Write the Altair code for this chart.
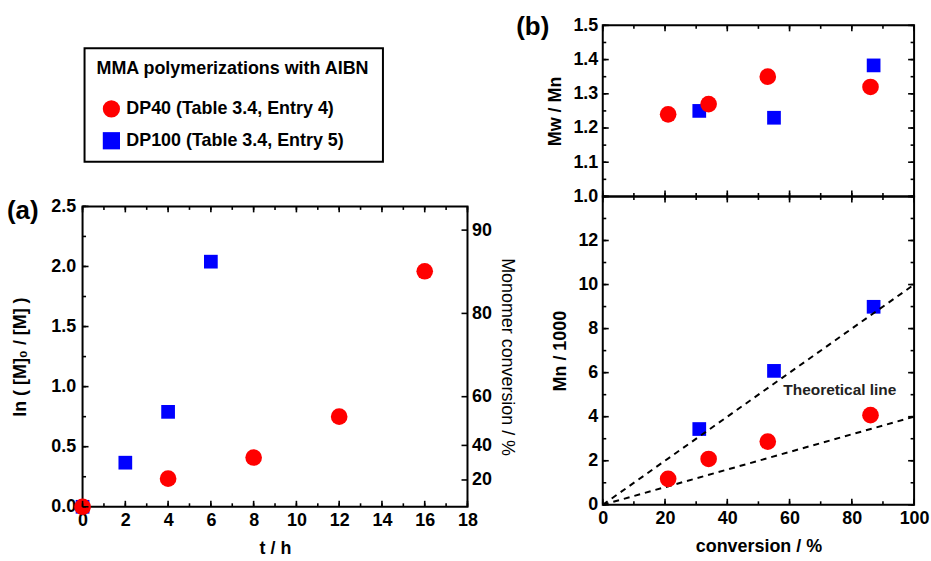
import altair as alt
import numpy as np
import pandas as pd

FONT = "Liberation Sans"

# ---------------- data ----------------
series_names = ["DP40 (Table 3.4, Entry 4)", "DP100 (Table 3.4, Entry 5)"]
series_colors = ["#ff0000", "#0000ff"]
series_shapes = ["circle", "square"]
legend_title = "MMA polymerizations with AIBN"

# panel (a): ln([M]0/[M]) vs time
t_dp40 = [0, 4, 8, 12, 16]
ln_dp40 = [0.0, 0.234, 0.41, 0.75, 1.96]
t_dp100 = [0, 2, 4, 6]
ln_dp100 = [0.0, 0.367, 0.79, 2.04]
conversion_ticks = [20, 40, 60, 80, 90]

# panel (b): Mw/Mn and Mn vs conversion
conv_dp40 = [21, 34, 53, 86]
pdi_dp40 = [1.24, 1.27, 1.35, 1.32]
mn_dp40 = [1.18, 2.08, 2.87, 4.07]
conv_dp100 = [31, 55, 87]
pdi_dp100 = [1.25, 1.23, 1.383]
mn_dp100 = [3.44, 6.08, 8.99]

theory_conv = [0, 100]
theory_mn_dp40 = [0, 4]
theory_mn_dp100 = [0, 10]
theory_label = "Theoretical line"
theory_label_at = [58, 5.2]

# axis domains and tick values
a_x_dom, a_y_dom = [0, 18], [0, 2.5]
b_x_dom, b1_y_dom, b2_y_dom = [0, 100], [1.0, 1.5], [0, 14]
a_x_major = list(range(0, 19, 2))
a_x_minor = list(range(0, 19))
a_y_major = [0.0, 0.5, 1.0, 1.5, 2.0, 2.5]
a_y_minor = [round(0.25 * i, 2) for i in range(11)]
b_x_major = list(range(0, 101, 20))
b_x_minor = list(range(0, 101, 10))
b1_y_major = [1.0, 1.1, 1.2, 1.3, 1.4, 1.5]
b1_y_minor = [round(1 + 0.05 * i, 2) for i in range(11)]
b2_y_major = list(range(0, 15, 2))
b2_y_minor = list(range(0, 15))
b2_y_labels = list(range(0, 13, 2))

# ---------------- layout ----------------
WA, HA = 387, 302
WB, HB1, HB2 = 313, 172, 310
SPACER_H = 182
COL_SPACING = 523
MAJOR, MINOR, TICK_W = 6, 3.5, 1.6


def label_axis(orient, values, fmt, title, label_pad, title_pad, **kw):
    return alt.Axis(orient=orient, values=values, format=fmt, title=title,
                    labelPadding=label_pad, titlePadding=title_pad,
                    ticks=False, tickSize=0, domain=False, grid=False,
                    labelFlush=False, labelOverlap=False, **kw)


def tick_layer(xs, ys, vals, edge, vertical, inward_sign, size):
    """Inward-pointing frame ticks, positioned through the panel's own scales."""
    if vertical:
        df = pd.DataFrame({"x": vals, "y": [edge] * len(vals)})
        mk = alt.Chart(df).mark_tick(orient="vertical", size=size, thickness=TICK_W,
                                     color="black", opacity=1, yOffset=inward_sign * size / 2)
    else:
        df = pd.DataFrame({"x": [edge] * len(vals), "y": vals})
        mk = alt.Chart(df).mark_tick(orient="horizontal", size=size, thickness=TICK_W,
                                     color="black", opacity=1, xOffset=inward_sign * size / 2)
    return mk.encode(x=alt.X("x:Q", scale=xs, axis=None), y=alt.Y("y:Q", scale=ys, axis=None))


def frame_ticks(xs, ys, xdom, ydom, xmaj, xmin, ymaj, ymin, right=True):
    out = []
    for xv, yv, size in [(xmaj, ymaj, MAJOR), (xmin, ymin, MINOR)]:
        out.append(tick_layer(xs, ys, xv, ydom[0], True, -1, size))   # bottom edge
        out.append(tick_layer(xs, ys, xv, ydom[1], True, 1, size))    # top edge
        out.append(tick_layer(xs, ys, yv, xdom[0], False, 1, size))   # left edge
        if right:
            out.append(tick_layer(xs, ys, yv, xdom[1], False, -1, size))  # right edge
    return out


def points(df, xf, yf, xs, ys, color, shape, size, xaxis=None, yaxis=None):
    return alt.Chart(df).mark_point(filled=True, opacity=1, color=color, shape=shape,
                                    size=size, strokeWidth=0).encode(
        x=alt.X(xf, type="quantitative", scale=xs, axis=xaxis),
        y=alt.Y(yf, type="quantitative", scale=ys, axis=yaxis),
    )


# ---------------- legend (in spacer above panel a) ----------------
leg = alt.Legend(title=legend_title, orient="none", legendX=2, legendY=23,
                 strokeColor="black", fillColor="white", padding=12, cornerRadius=0,
                 titleFont=FONT, titleFontSize=18, titleFontWeight="bold", titleColor="black",
                 titlePadding=22, titleLimit=500,
                 labelFont=FONT, labelFontSize=18, labelFontWeight="bold", labelColor="black",
                 labelLimit=500, symbolSize=300, symbolOffset=6, labelOffset=6,
                 rowPadding=14, symbolOpacity=1, symbolStrokeWidth=0)

df_leg = pd.DataFrame({"series": series_names, "v": [0, 0]})
spacer = alt.Chart(df_leg).mark_point(filled=True, opacity=0).encode(
    x=alt.X("v:Q", axis=None),
    y=alt.Y("v:Q", axis=None),
    color=alt.Color("series:N", scale=alt.Scale(domain=series_names, range=series_colors), legend=leg),
    shape=alt.Shape("series:N", scale=alt.Scale(domain=series_names, range=series_shapes), legend=leg),
).properties(width=WA, height=SPACER_H, view=alt.ViewBackground(stroke=None))

# ---------------- panel (a) ----------------
df_a40 = pd.DataFrame({"t": t_dp40, "ln": ln_dp40})
df_a100 = pd.DataFrame({"t": t_dp100, "ln": ln_dp100})
xa = alt.Scale(domain=a_x_dom, nice=False, zero=False)
ya = alt.Scale(domain=a_y_dom, nice=False, zero=False)
conv_positions = [float(-np.log(1 - c / 100)) for c in conversion_ticks]

a_blue = points(df_a100, "t", "ln", xa, ya, series_colors[1], "square", 190,
                xaxis=label_axis("bottom", a_x_major, "d", "t / h", 5, 10),
                yaxis=label_axis("left", a_y_major, ".1f", "ln ( [M]₀ / [M] )", 7, 21))
a_red = points(df_a40, "t", "ln", xa, ya, series_colors[0], "circle", 280)
a_conv = alt.Chart(df_a40).mark_point(opacity=0).encode(
    x=alt.X("t:Q", scale=xa, axis=None),
    y=alt.Y("ln:Q", scale=ya, axis=alt.Axis(
        orient="right", values=conv_positions,
        labelExpr="format(100 * (1 - exp(-datum.value)), '.0f')",
        ticks=False, tickSize=0, domain=False, grid=False, labelPadding=4,
        labelFlush=False, labelOverlap=False,
        title="Monomer conversion / %", titleFontWeight="normal", titlePadding=6)),
)
a_conv_ticks = tick_layer(xa, ya, conv_positions, a_x_dom[1], False, -1, MAJOR)

panel_a = alt.layer(
    a_blue, a_red, a_conv, a_conv_ticks,
    *frame_ticks(xa, ya, a_x_dom, a_y_dom, a_x_major, a_x_minor, a_y_major, a_y_minor, right=False)
).resolve_axis(x="independent", y="independent").properties(
    width=WA, height=HA,
    title=alt.TitleParams("(a)", anchor="start", frame="group", offset=0, baseline="bottom", dx=-76, dy=53),
)

# ---------------- panel (b) ----------------
df_b40 = pd.DataFrame({"conv": conv_dp40, "pdi": pdi_dp40, "mn": mn_dp40})
df_b100 = pd.DataFrame({"conv": conv_dp100, "pdi": pdi_dp100, "mn": mn_dp100})
xb = alt.Scale(domain=b_x_dom, nice=False, zero=False)
yb1 = alt.Scale(domain=b1_y_dom, nice=False, zero=False)
yb2 = alt.Scale(domain=b2_y_dom, nice=False, zero=False)

b1_blue = points(df_b100, "conv", "pdi", xb, yb1, series_colors[1], "square", 190,
                 xaxis=None, yaxis=label_axis("left", b1_y_major, ".1f", "Mw / Mn", 5, 8))
b1_red = points(df_b40, "conv", "pdi", xb, yb1, series_colors[0], "circle", 280)
b_top = alt.layer(
    b1_blue, b1_red,
    *frame_ticks(xb, yb1, b_x_dom, b1_y_dom, b_x_major, b_x_minor, b1_y_major, b1_y_minor)
).resolve_axis(x="independent", y="independent").properties(
    width=WB, height=HB1,
    title=alt.TitleParams("(b)", anchor="start", frame="group", offset=0, baseline="bottom", dx=-87, dy=50),
)

df_theory = pd.DataFrame({
    "conv": theory_conv + theory_conv,
    "mn": theory_mn_dp40 + theory_mn_dp100,
    "line": ["DP40"] * 2 + ["DP100"] * 2,
})
theory = alt.Chart(df_theory).mark_line(color="black", strokeDash=[6, 5], strokeWidth=2).encode(
    x=alt.X("conv:Q", scale=xb, axis=None),
    y=alt.Y("mn:Q", scale=yb2, axis=None),
    detail="line:N",
)
df_txt = pd.DataFrame({"conv": [theory_label_at[0]], "mn": [theory_label_at[1]], "label": [theory_label]})
theory_txt = alt.Chart(df_txt).mark_text(align="left", baseline="middle", font=FONT, fontSize=15.5,
                                         fontWeight="bold", color="#222222").encode(
    x=alt.X("conv:Q", scale=xb, axis=None),
    y=alt.Y("mn:Q", scale=yb2, axis=None),
    text="label:N",
)
b2_blue = points(df_b100, "conv", "mn", xb, yb2, series_colors[1], "square", 190,
                 xaxis=label_axis("bottom", b_x_major, "d", "conversion / %", 5, 10),
                 yaxis=label_axis("left", b2_y_labels, "d", "Mn / 1000", 5, 8))
b2_red = points(df_b40, "conv", "mn", xb, yb2, series_colors[0], "circle", 280)
b_bot = alt.layer(
    b2_blue, theory, b2_red, theory_txt,
    *frame_ticks(xb, yb2, b_x_dom, b2_y_dom, b_x_major, b_x_minor, b2_y_major, b2_y_minor)
).resolve_axis(x="independent", y="independent").properties(width=WB, height=HB2)

# ---------------- assemble ----------------
left_col = alt.vconcat(spacer, panel_a, spacing=0, bounds="flush")
right_col = alt.vconcat(b_top, b_bot, spacing=0, bounds="flush")

chart = alt.hconcat(left_col, right_col, spacing=COL_SPACING, bounds="flush").properties(
    padding={"left": 6, "top": 12, "right": 0, "bottom": 0},
    background="white",
).configure(font=FONT).configure_view(
    stroke="black", strokeWidth=2
).configure_axis(
    labelFont=FONT, labelFontSize=18, labelFontWeight="bold", labelColor="black",
    titleFont=FONT, titleFontSize=18, titleFontWeight="bold", titleColor="black",
).configure_legend(
    strokeWidth=2
).configure_title(
    font=FONT, fontSize=26, fontWeight="bold", color="black"
)

chart.save("out.html", embed_options={"renderer": "svg", "actions": False})
